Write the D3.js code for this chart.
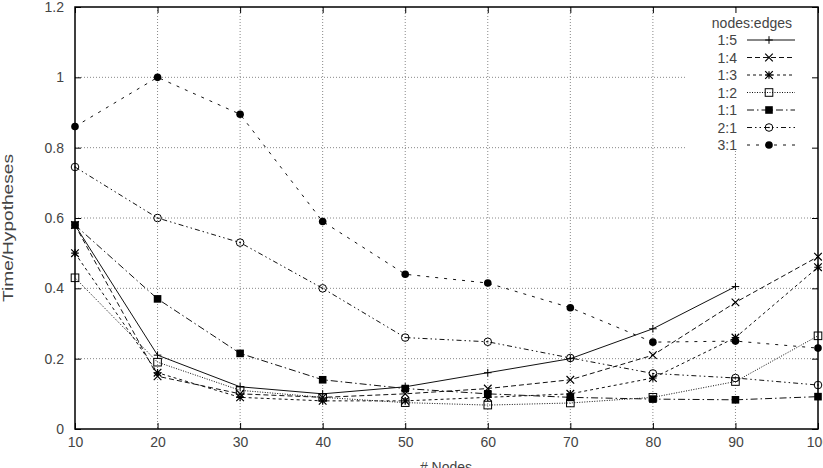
<!DOCTYPE html>
<html><head><meta charset="utf-8">
<script src="https://cdn.jsdelivr.net/npm/d3@7"></script>
<style>html,body{margin:0;padding:0;background:#fff;overflow:hidden}</style>
</head><body>
<svg id="c" width="823" height="468"></svg>
<script>
const nodes = [10,20,30,40,50,60,70,80,90,100];
const xTicks = [10,20,30,40,50,60,70,80,90,100];
const yTicks = [0,0.2,0.4,0.6,0.8,1,1.2];
const seriesNames = ["1:5","1:4","1:3","1:2","1:1","2:1","3:1"];
const s15 = [0.58,0.21,0.12,0.10,0.12,0.16,0.20,0.285,0.405,null];
const s14 = [0.58,0.15,0.10,0.09,0.10,0.115,0.14,0.21,0.36,0.49];
const s13 = [0.50,0.16,0.09,0.08,0.08,0.09,0.10,0.145,0.26,0.46];
const s12 = [0.43,0.19,0.11,0.09,0.075,0.068,0.074,0.09,0.135,0.265];
const s11 = [0.58,0.37,0.215,0.14,0.115,0.10,0.09,0.085,0.083,0.092];
const s21 = [0.745,0.60,0.53,0.40,0.26,0.248,0.202,0.158,0.145,0.125];
const s31 = [0.86,1.0,0.895,0.59,0.44,0.415,0.345,0.247,0.25,0.23];
const seriesValues = [s15,s14,s13,s12,s11,s21,s31];

const styles = [
  {dash:null, marker:"plus"},
  {dash:"5,3", marker:"cross"},
  {dash:"3,3", marker:"star"},
  {dash:"1,1.5", marker:"square"},
  {dash:"7,3,1.5,3", marker:"fsquare"},
  {dash:"5,3,1.5,3,1.5,3", marker:"circle"},
  {dash:"3,6", marker:"fcircle"}
];

const L=75, R=818, T=7, B=429;
const svg = d3.select("#c");
const x = d3.scaleLinear().domain([10,100]).range([L,R]);
const y = d3.scaleLinear().domain([0,1.2]).range([B,T]);
const font = "'Liberation Sans', Arial, sans-serif";
const txt = "#444";
const fs = "14px";

// grid
const g = svg.append("g");
g.selectAll(".gx").data(xTicks.filter(d=>d>10&&d<100)).join("line")
  .attr("x1",d=>x(d)).attr("x2",d=>x(d)).attr("y1",T).attr("y2",B)
  .attr("stroke","#888").attr("stroke-width",1).attr("stroke-dasharray","1,2");
g.selectAll(".gy").data(yTicks.filter(d=>d>0&&d<1.2)).join("line")
  .attr("x1",L).attr("x2",R).attr("y1",d=>y(d)).attr("y2",d=>y(d))
  .attr("stroke","#888").attr("stroke-width",1).attr("stroke-dasharray","1,2");

// legend background (hides grid)
svg.append("rect").attr("x",686).attr("y",T+1).attr("width",R-686-1).attr("height",141).attr("fill","#fff");

// axes with d3 axis generators (inward ticks)
const axB = svg.append("g").attr("transform",`translate(0,${B})`)
  .call(d3.axisBottom(x).tickValues(xTicks).tickSize(-6).tickPadding(8).tickFormat(d3.format("d")));
const axL = svg.append("g").attr("transform",`translate(${L},0)`)
  .call(d3.axisLeft(y).tickValues(yTicks).tickSize(-6).tickPadding(11).tickFormat(d=>d3.format("")(+d.toFixed(1))));
const axT = svg.append("g").attr("transform",`translate(0,${T})`)
  .call(d3.axisTop(x).tickValues(xTicks).tickSize(-6).tickFormat(""));
const axR = svg.append("g").attr("transform",`translate(${R},0)`)
  .call(d3.axisRight(y).tickValues(yTicks).tickSize(-6).tickFormat(""));
[axB,axL,axT,axR].forEach(a=>{
  a.select(".domain").remove();
  a.selectAll(".tick line").attr("stroke","#000").attr("stroke-width",1);
  a.selectAll("text").attr("fill",txt).style("font-family",font).style("font-size",fs);
});
svg.append("rect").attr("x",L).attr("y",T).attr("width",R-L).attr("height",B-T)
  .attr("fill","none").attr("stroke","#000").attr("stroke-width",1.5);

// axis titles
svg.append("text").attr("x",446).attr("y",472).attr("text-anchor","middle")
  .attr("fill",txt).style("font-family",font).style("font-size",fs).text("# Nodes");
svg.append("text").attr("transform",`translate(13,228) rotate(-90)`).attr("text-anchor","middle")
  .attr("textLength",148).attr("lengthAdjust","spacingAndGlyphs")
  .attr("fill",txt).style("font-family",font).style("font-size",fs).text("Time/Hypotheses");

function marker(sel, type, cx, cy){
  const s=3.8;
  if(type==="plus"){
    sel.append("path").attr("d",`M${cx-s},${cy}H${cx+s}M${cx},${cy-s}V${cy+s}`).attr("stroke","#000").attr("stroke-width",1);
  } else if(type==="cross"){
    sel.append("path").attr("d",`M${cx-s},${cy-s}L${cx+s},${cy+s}M${cx-s},${cy+s}L${cx+s},${cy-s}`).attr("stroke","#000").attr("stroke-width",1.2);
  } else if(type==="star"){
    sel.append("path").attr("d",`M${cx-s},${cy-s}L${cx+s},${cy+s}M${cx-s},${cy+s}L${cx+s},${cy-s}M${cx-s},${cy}H${cx+s}M${cx},${cy-s}V${cy+s}`).attr("stroke","#000").attr("stroke-width",1.2);
  } else if(type==="square"){
    sel.append("rect").attr("x",cx-s).attr("y",cy-s).attr("width",2*s).attr("height",2*s).attr("fill","none").attr("stroke","#000").attr("stroke-width",1);
  } else if(type==="fsquare"){
    sel.append("rect").attr("x",cx-s).attr("y",cy-s).attr("width",2*s).attr("height",2*s).attr("fill","#000");
  } else if(type==="circle"){
    sel.append("circle").attr("cx",cx).attr("cy",cy).attr("r",s).attr("fill","none").attr("stroke","#000").attr("stroke-width",1);
    sel.append("circle").attr("cx",cx).attr("cy",cy).attr("r",0.8).attr("fill","#000");
  } else if(type==="fcircle"){
    sel.append("circle").attr("cx",cx).attr("cy",cy).attr("r",s).attr("fill","#000");
  }
}

const plot = svg.append("g");
seriesValues.forEach((vals,i)=>{
  const pts = nodes.map((n,j)=>({n,v:vals[j]})).filter(p=>p.v!=null);
  const line = d3.line().x(p=>x(p.n)).y(p=>y(p.v));
  plot.append("path").attr("d",line(pts)).attr("fill","none").attr("stroke","#111")
    .attr("stroke-width",1).attr("stroke-dasharray",styles[i].dash);
  const mg = plot.append("g");
  pts.forEach(p=>marker(mg, styles[i].marker, x(p.n), y(p.v)));
});

// legend
const lg = svg.append("g");
lg.append("text").attr("x",792).attr("y",28).attr("text-anchor","end").attr("fill",txt)
  .style("font-family",font).style("font-size",fs).text("nodes:edges");
seriesNames.forEach((name,i)=>{
  const yy = 40 + i*17.5;
  lg.append("text").attr("x",737).attr("y",yy+5).attr("text-anchor","end").attr("fill",txt)
    .style("font-family",font).style("font-size",fs).text(name);
  lg.append("line").attr("x1",747).attr("x2",795).attr("y1",yy).attr("y2",yy)
    .attr("stroke","#111").attr("stroke-width",1).attr("stroke-dasharray",styles[i].dash);
  marker(lg, styles[i].marker, 769, yy);
});
</script>
</body></html>
